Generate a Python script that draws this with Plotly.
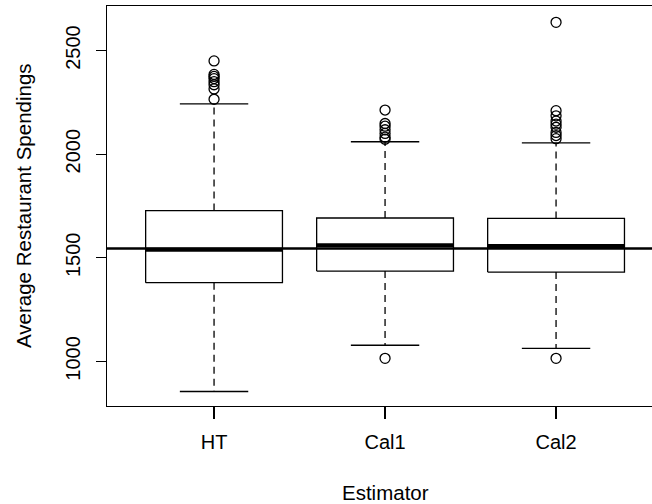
import plotly.graph_objects as go

# ---- data ----
categories = ["HT", "Cal1", "Cal2"]
lower_whisker = [855, 1078, 1063]
q1 = [1380, 1436, 1431]
median = [1539, 1561, 1557]
q3 = [1728, 1692, 1690]
upper_whisker = [2243, 2060, 2055]
outliers = [
    [2450, 2385, 2375, 2365, 2350, 2335, 2315, 2265],
    [2213, 2148, 2135, 2118, 2100, 2082, 2072, 1015],
    [2636, 2210, 2185, 2160, 2145, 2130, 2105, 2090, 2075, 1015],
]
reference_value = 1545
y_ticks = [1000, 1500, 2000, 2500]

FONT = "Liberation Sans, Arial, Helvetica, sans-serif"
BOX_HALF = 0.4
STAPLE_HALF = 0.2
LW = 1.3

fig = go.Figure()
positions = list(range(1, len(categories) + 1))

for i, p in enumerate(positions):
    # dashed whiskers
    for a, b in ((q3[i], upper_whisker[i]), (q1[i], lower_whisker[i])):
        fig.add_trace(go.Scatter(x=[p, p], y=[a, b], mode="lines",
                                 line=dict(color="black", width=LW, dash="7px,5px"),
                                 hoverinfo="skip", showlegend=False))
    # staples
    for w in (upper_whisker[i], lower_whisker[i]):
        fig.add_trace(go.Scatter(x=[p - STAPLE_HALF, p + STAPLE_HALF], y=[w, w], mode="lines",
                                 line=dict(color="black", width=LW),
                                 hoverinfo="skip", showlegend=False))
    # box
    fig.add_trace(go.Scatter(
        x=[p - BOX_HALF, p + BOX_HALF, p + BOX_HALF, p - BOX_HALF, p - BOX_HALF],
        y=[q1[i], q1[i], q3[i], q3[i], q1[i]],
        mode="lines", fill="toself", fillcolor="white",
        line=dict(color="black", width=LW), hoverinfo="skip", showlegend=False))
    # median
    fig.add_trace(go.Scatter(x=[p - BOX_HALF, p + BOX_HALF], y=[median[i], median[i]],
                             mode="lines", line=dict(color="black", width=4),
                             hoverinfo="skip", showlegend=False))
    # outliers
    fig.add_trace(go.Scatter(x=[p] * len(outliers[i]), y=outliers[i], mode="markers",
                             marker=dict(symbol="circle-open", size=10,
                                         color="black", line=dict(width=LW)),
                             hoverinfo="skip", showlegend=False))

# reference line
fig.add_hline(y=reference_value, line=dict(color="black", width=2.5))

fig.update_layout(
    width=652, height=504,
    margin=dict(l=107, r=0, t=6, b=98, autoexpand=False),
    paper_bgcolor="white", plot_bgcolor="white",
    font=dict(family=FONT, size=20, color="black"),
    showlegend=False,
)
fig.update_xaxes(
    range=[0.374, 3.561], tickvals=positions, ticktext=categories,
    showgrid=False, zeroline=False, showline=True, mirror=True,
    linecolor="black", linewidth=LW, ticks="outside", ticklen=12,
    tickwidth=LW, tickcolor="black", ticklabelstandoff=6, automargin=False,
)
fig.update_yaxes(
    range=[785, 2715], tickvals=y_ticks,
    showgrid=False, zeroline=False, showline=True, mirror=False,
    linecolor="black", linewidth=LW, ticks="outside", ticklen=10,
    tickwidth=LW, tickcolor="black", tickangle=-90, ticklabelstandoff=8,
    automargin=False,
)
fig.add_annotation(text="Average Restaurant Spendings", xref="paper", yref="paper",
                   x=0, y=0.5, xanchor="center", yanchor="middle",
                   xshift=-84, textangle=-90, showarrow=False,
                   font=dict(family=FONT, size=20.5))
fig.add_annotation(text="Estimator", xref="paper", yref="paper",
                   x=(385 - 107) / 545, y=0, xanchor="center", yanchor="middle",
                   yshift=-86, showarrow=False,
                   font=dict(family=FONT, size=20.5))

fig.write_html("out.html",
               config={"displayModeBar": False, "staticPlot": True},
               post_script="document.body.style.margin='0';document.body.style.overflow='hidden';")
